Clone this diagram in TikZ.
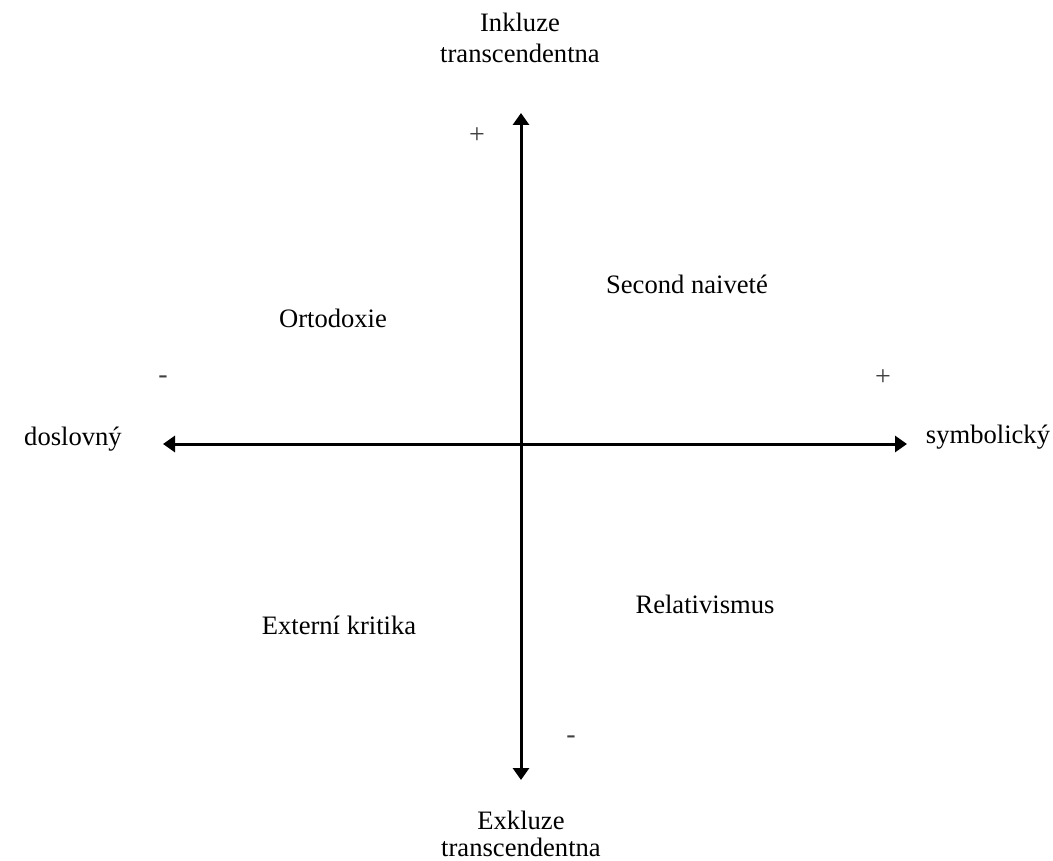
\documentclass[tikz,border=0pt]{standalone}
\usepackage{fontspec}
\setmainfont{Liberation Serif}
\usetikzlibrary{arrows.meta}
\begin{document}
\begin{tikzpicture}[x=1pt,y=-1pt,
  lbl/.style={inner sep=0pt,anchor=base,font=\fontsize{26.6}{32}\selectfont},
  sgn/.style={inner sep=0pt,anchor=center,font=\fontsize{28}{32}\selectfont,text=black!75},
  axis/.style={line width=3pt,-{Triangle[length=12pt,width=16pt]}}]
\useasboundingbox (0,0) rectangle (1053,861);
% axis end points
\coordinate (o) at (521,444);
\coordinate (top) at (521,113);
\coordinate (bottom) at (521,780);
\coordinate (left) at (163,444);
\coordinate (right) at (907,444);
\draw[axis] (o) -- (top);
\draw[axis] (o) -- (bottom);
\draw[axis] (o) -- (left);
\draw[axis] (o) -- (right);
% axis titles
\node[lbl] (inkl) at (520,32) {Inkluze};
\node[lbl] (inkl2) at (520,63) {transcendentna};
\node[lbl] (exkl) at (521,829) {Exkluze};
\node[lbl] (exkl2) at (521,856) {transcendentna};
\node[lbl] (dosl) at (73,445) {doslovný};
\node[lbl] (symb) at (988,443) {symbolický};
% quadrants
\node[lbl] (second) at (687,294) {Second naiveté};
\node[lbl] (orto) at (333,327) {Ortodoxie};
\node[lbl] (ext) at (339,634) {Externí kritika};
\node[lbl] (rel) at (705,613) {Relativismus};
% signs
\node[sgn] (pt) at (477,136) {+};
\node[sgn] (pr) at (883,378) {+};
\node[sgn] (ml) at (163,380) {-};
\node[sgn] (mb) at (571,740) {-};
\end{tikzpicture}
\end{document}
